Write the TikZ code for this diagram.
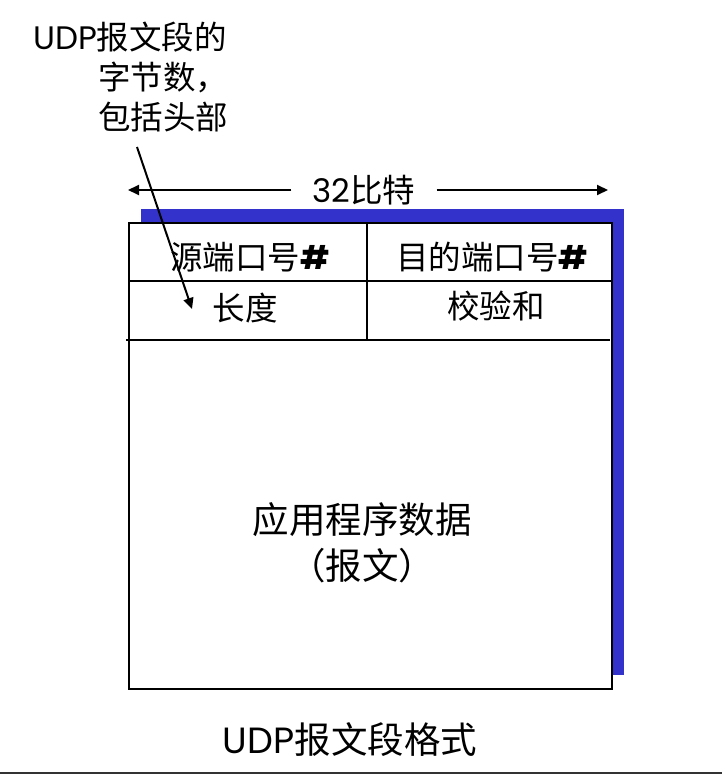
\documentclass[tikz,border=0pt]{standalone}
\usepackage{fontspec}
\setmainfont{Poppins}
\newfontfamily\cjk{Noto Sans CJK SC}
\usetikzlibrary{arrows.meta}
\definecolor{shadowblue}{RGB}{51,51,204}
\definecolor{rulegray}{RGB}{51,51,51}

\begin{document}
\begin{tikzpicture}[x=1pt,y=-1pt,
  txt/.style={font=\fontsize{32.5}{38}\selectfont,inner sep=0pt},
  bigtxt/.style={font=\fontsize{36.5}{42}\selectfont,inner sep=0pt},
  pointer/.style={line width=2pt,-{Triangle[length=11pt,width=10pt]}}]
          \useasboundingbox (0,0) rectangle (722,775);
          \fill[shadowblue] (141,209) rectangle (624,675);
          \draw[line width=2pt,fill=white] (129,223) rectangle (612,689);
          \draw[line width=2pt] (129,281) -- (612,281);
          \draw[line width=2pt] (126,340) -- (610,340);
          \draw[line width=2pt] (367,223) -- (367,340);
          \draw node[txt] (srcport) at %
          (250,257) {{\cjk 源端口号}\textbf{\#}};
          \draw node[txt] (dstport) at %
          (492,257) {{\cjk 目的端口号}\textbf{\#}};
          \draw node[txt] (length) at %
          (245,308) {\cjk 长度};
          \draw node[txt] (checksum) at %
          (496,306) {\cjk 校验和};
          \draw node[bigtxt] (data) at %
          (362,520) {\cjk 应用程序数据};
          \draw node[bigtxt] (datanote) at %
          (362,566) {\cjk （报文）};
          \draw node[txt,inner xsep=21pt] (bits) at %
          (364,190) {32{\cjk 比特}};
          \coordinate (bitsleft) at (128,190);
          \coordinate (bitsright) at (608,190);
          \draw[pointer] (bits.west) -- (bitsleft);
          \draw[pointer] (bits.east) -- (bitsright);
          \draw node[txt,anchor=west] (lenlabela) at %
          (33,37) {UDP{\cjk 报文段的}};
          \draw node[txt,anchor=west] (lenlabelb) at %
          (98,77) {\cjk 字节数，};
          \draw node[txt,anchor=west] (lenlabelc) at %
          (98,117) {\cjk 包括头部};
          \coordinate (lentail) at (137,147);
          \coordinate (lenhead) at (192,309);
          \draw[pointer] (lentail) -- (lenhead);
          \draw node[bigtxt] (caption) at %
          (350,740) {UDP{\cjk 报文段格式}};
          \draw[rulegray,line width=2.5pt] (0,773) -- (722,773);
        \end{tikzpicture}
\end{document}
